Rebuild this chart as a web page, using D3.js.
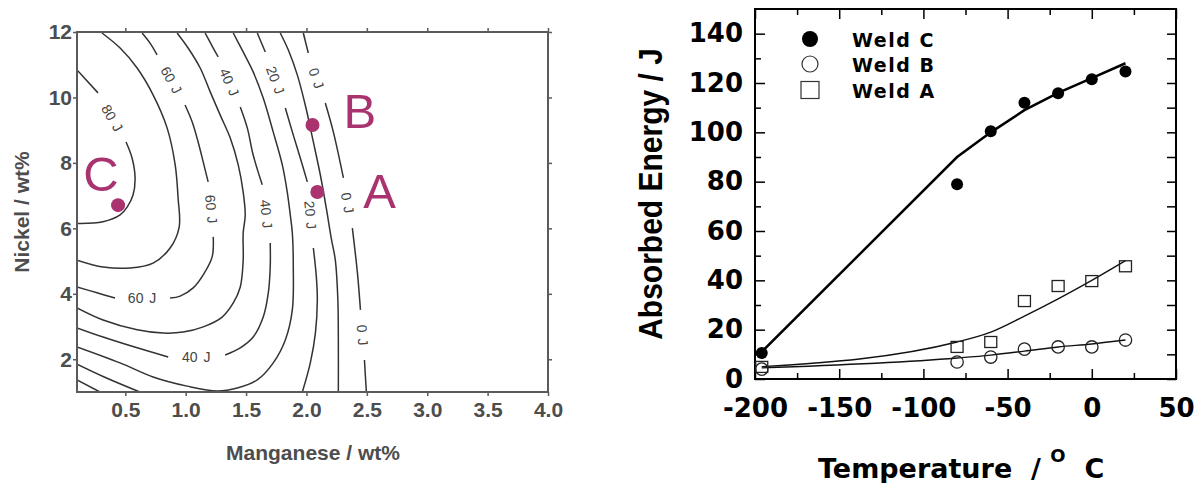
<!DOCTYPE html>
<meta charset="utf-8">
<head>
<style>
  body { margin: 0; background: #fff; }
  svg text { font-family: "Liberation Sans", Arial, sans-serif; }
  .contour { fill: none; stroke: #333; stroke-width: 1.5px; }
  .clabel { font-size: 14px; fill: #444; word-spacing: 2px; }
  .weld { fill: #a8336f; }
  .weldtxt { font-size: 49px; fill: #a8336f; }
  .ltitle { font-size: 21px; font-weight: bold; fill: #4d4d4d; }
  .rtick text { font-family: "DejaVu Sans", sans-serif; font-weight: bold; font-size: 26px; fill: #000; }
  .legtxt { font-family: "DejaVu Sans", sans-serif; font-weight: bold; font-size: 19px; letter-spacing: 1.5px; }
  .rtitle { font-weight: bold; fill: #000; white-space: pre; }
  svg text.xtitle { font-family: "DejaVu Sans", sans-serif; font-size: 27px; }
</style>
</head>
<body>
<svg id="chart" width="1201" height="483"></svg>
<script src="https://d3js.org/d3.v7.min.js"></script>
<script>

// ---------- left panel: contour map, Mn vs Ni ----------
var mnTicks = [0.5, 1.0, 1.5, 2.0, 2.5, 3.0, 3.5, 4.0];
var niTicks = [2, 4, 6, 8, 10, 12];

// each contour is a list of segments of [Mn, Ni], broken where the labels sit
var c80 = [
  [[0.10,10.84],[0.274,10.14]],
  [[0.506,8.64],[0.556,8.15],[0.581,7.54],[0.564,7.02],[0.515,6.65],[0.457,6.41],[0.315,6.20],[0.10,6.15]]
];
var c70 = [
  [[0.307,11.97],[0.457,11.51],[0.598,10.90],[0.730,10.08],[0.846,9.07],[0.913,7.94],[0.937,6.93],[0.946,6.04],[0.871,5.40],[0.730,4.94],[0.539,4.79],[0.316,4.82],[0.10,5.03]]
];
var c60 = [
  [[0.639,11.97],[0.705,11.66],[0.763,11.30]],
  [[0.995,9.77],[1.054,9.25],[1.103,8.64],[1.145,8.03],[1.186,7.42]],
  [[1.228,5.74],[1.219,5.13],[1.145,4.58],[1.062,4.18],[0.954,3.93],[0.871,3.87]],
  [[0.415,3.87],[0.266,4.03],[0.10,4.21]]
];
var c50 = [
  [[0.929,11.97],[1.020,11.51],[1.120,10.90],[1.203,10.17],[1.286,9.46],[1.369,8.76],[1.435,7.94],[1.476,7.11],[1.493,6.41],[1.476,5.86],[1.476,5.03],[1.452,4.21],[1.394,3.72],[1.302,3.29],[1.145,2.99],[0.979,2.83],[0.813,2.80],[0.598,2.90],[0.316,3.20],[0.10,3.57]]
];
var c40 = [
  [[1.161,11.97],[1.228,11.51],[1.269,11.24]],
  [[1.452,9.71],[1.510,9.07],[1.559,8.24],[1.634,7.33]],
  [[1.700,5.55],[1.700,4.82],[1.684,4.03],[1.642,3.29],[1.559,2.68],[1.452,2.35],[1.327,2.13]],
  [[0.855,2.07],[0.598,2.35],[0.316,2.68],[0.10,2.96]]
];
var c30 = [
  [[1.394,11.97],[1.476,11.39],[1.559,10.78],[1.642,9.98],[1.725,8.94],[1.800,7.94],[1.841,7.11],[1.866,6.41],[1.883,5.86],[1.891,4.82],[1.883,3.51],[1.825,2.59],[1.725,1.89],[1.593,1.37],[1.427,1.12],[1.261,1.03],[1.012,1.18],[0.730,1.46],[0.457,1.89],[0.10,2.38]]
];
var c20 = [
  [[1.593,11.97],[1.659,11.39]],
  [[1.825,9.68],[1.891,8.85],[1.949,8.15],[2.007,7.42]],
  [[2.057,5.40],[2.082,4.51],[2.090,3.81],[2.074,2.80],[2.032,1.89],[1.966,1.0]],
  [[0.10,1.85],[0.33,1.45],[0.62,1.0]]
];
var c10 = [
  [[1.783,11.97],[1.850,11.45],[1.924,10.69],[1.990,9.77],[2.057,8.64],[2.115,7.63],[2.165,6.6],[2.205,5.7],[2.239,5.03],[2.260,3.81],[2.264,2.59],[2.264,1.0]],
  [[0.10,1.37],[0.29,1.0]]
];
var c0 = [
  [[1.974,11.97],[2.015,11.36]],
  [[2.156,9.83],[2.223,8.94],[2.306,7.54]],
  [[2.380,6.01],[2.422,4.64],[2.447,3.51]],
  [[2.480,1.98],[2.496,1.0]]
];

var labelText = ["80 J","60 J","60 J","60 J","40 J","40 J","40 J","20 J","20 J","0 J","0 J","0 J"];
var labelMn   = [0.39, 0.88, 1.211, 0.639, 1.36, 1.667, 1.087, 1.742, 2.032, 2.082, 2.339, 2.463];
var labelNi   = [9.37, 10.53, 6.59, 3.87, 10.47, 6.44, 2.07, 10.53, 6.41, 10.59, 6.78, 2.74];
var labelRot  = [60, 61, 85, 0, 66, 84, 0, 70, 85, 71, 80, 86];

var weldNames = ["A", "B", "C"];
var weldMn = [2.09, 2.05, 0.44];
var weldNi = [7.11, 9.16, 6.71];

// ---------- right panel: Charpy energy vs temperature ----------
var temps = [-196, -80, -60, -40, -20, 0, 20];
var weldC = [10.5, 79, 100.4, 112, 115.8, 121.5, 124.7];
var weldB = [4, 6.9, 8.9, 12.1, 13, 13, 15.8];
var weldA = [4.9, 13, 15, 31.6, 37.7, 39.7, 45.7];
var fitC = [11, 90, 100, 109, 116, 122, 128];
var fitB = [4.5, 8.5, 9.7, 11.3, 13, 14.2, 15.8];
var fitA = [5, 15, 19, 25.5, 32.5, 40, 48];
var legendNames = ["Weld C", "Weld B", "Weld A"];

var svg = d3.select("#chart");

// ===== left =====
var xL = d3.scaleLinear().domain([0.1, 4.0]).range([77, 548]);
var yL = d3.scaleLinear().domain([1, 12]).range([392, 32]);
var left = svg.append("g");

left.append("clipPath").attr("id", "clipL")
  .append("rect").attr("x", 77).attr("y", 32).attr("width", 471).attr("height", 360);

function styleLeftAxis(g) {
  g.select(".domain").remove();
  g.selectAll("line").attr("stroke", "#5a5a5a").attr("stroke-width", 1.5);
  g.selectAll("text").attr("fill", "#4d4d4d");
  g.attr("font-size", 21).attr("font-weight", "bold");
}

left.append("g").attr("transform", "translate(0,392)")
  .call(d3.axisBottom(xL).tickValues(mnTicks).tickFormat(d3.format(".1f")).tickSize(4).tickPadding(6))
  .call(styleLeftAxis);
left.append("g").attr("transform", "translate(0,32)")
  .call(d3.axisTop(xL).tickValues(mnTicks).tickFormat("").tickSize(4))
  .call(styleLeftAxis);
left.append("g").attr("transform", "translate(77,0)")
  .call(d3.axisLeft(yL).tickValues(niTicks).tickSize(4).tickPadding(1))
  .call(styleLeftAxis);
left.append("g").attr("transform", "translate(548,0)")
  .call(d3.axisRight(yL).tickValues(niTicks).tickFormat("").tickSize(4))
  .call(styleLeftAxis);

var contourLine = d3.line()
  .x(function(d) { return xL(d[0]); })
  .y(function(d) { return yL(d[1]); })
  .curve(d3.curveCatmullRom.alpha(0.5));

var segs = [].concat(c80, c70, c60, c50, c40, c30, c20, c10, c0);
left.append("g").attr("clip-path", "url(#clipL)")
  .selectAll("path").data(segs).join("path")
  .attr("class", "contour")
  .attr("d", contourLine);

left.selectAll(".clabel").data(labelText).join("text")
  .attr("class", "clabel")
  .attr("text-anchor", "middle")
  .attr("dy", "0.35em")
  .attr("transform", function(d, i) {
    return "translate(" + xL(labelMn[i]) + "," + yL(labelNi[i]) + ") rotate(" + labelRot[i] + ")";
  })
  .text(function(d) { return d; });

left.append("rect").attr("x", 77).attr("y", 32).attr("width", 471).attr("height", 360)
  .attr("fill", "none").attr("stroke", "#5a5a5a").attr("stroke-width", 2);

// weld compositions
var weldDx = [46, 31, -17];
var weldDy = [16, 3, -14];
var weldAnchor = ["start", "start", "middle"];
left.selectAll(".weld").data(weldNames).join("circle")
  .attr("class", "weld")
  .attr("cx", function(d, i) { return xL(weldMn[i]); })
  .attr("cy", function(d, i) { return yL(weldNi[i]); })
  .attr("r", 7);
left.selectAll(".weldtxt").data(weldNames).join("text")
  .attr("class", "weldtxt")
  .attr("x", function(d, i) { return xL(weldMn[i]) + weldDx[i]; })
  .attr("y", function(d, i) { return yL(weldNi[i]) + weldDy[i]; })
  .attr("text-anchor", function(d, i) { return weldAnchor[i]; })
  .text(function(d) { return d; });

left.append("text").attr("class", "ltitle")
  .attr("x", 313).attr("y", 460).attr("text-anchor", "middle")
  .text("Manganese / wt%");
left.append("text").attr("class", "ltitle")
  .attr("transform", "translate(29,212) rotate(-90)").attr("text-anchor", "middle")
  .text("Nickel / wt%");

// ===== right =====
var xR = d3.scaleLinear().domain([-200, 50]).range([755, 1176]);
var yR = d3.scaleLinear().domain([0, 150]).range([379, 9]);
var right = svg.append("g");

function styleRightAxis(g) {
  g.select(".domain").remove();
  g.attr("class", "rtick");
  g.selectAll("line").attr("stroke", "#000").attr("stroke-width", 1.5);
}
var plain = function(d) { return String(d); };   // keep the hyphen minus of the original

var xMajor = [-200, -150, -100, -50, 0, 50];
var xMinor = [-175, -125, -75, -25, 25];
var yMajor = [0, 20, 40, 60, 80, 100, 120, 140];
var yMinor = [10, 30, 50, 70, 90, 110, 130];

right.append("g").attr("transform", "translate(0,379)")
  .call(d3.axisBottom(xR).tickValues(xMajor).tickFormat(plain).tickSize(-10).tickPadding(20))
  .call(styleRightAxis);
right.append("g").attr("transform", "translate(0,379)")
  .call(d3.axisBottom(xR).tickValues(xMinor).tickFormat("").tickSize(-6))
  .call(styleRightAxis);
right.append("g").attr("transform", "translate(0,9)")
  .call(d3.axisTop(xR).tickValues(xMajor).tickFormat("").tickSize(-10))
  .call(styleRightAxis);
right.append("g").attr("transform", "translate(0,9)")
  .call(d3.axisTop(xR).tickValues(xMinor).tickFormat("").tickSize(-6))
  .call(styleRightAxis);
right.append("g").attr("transform", "translate(755,0)")
  .call(d3.axisLeft(yR).tickValues(yMajor).tickFormat(plain).tickSize(-10).tickPadding(12))
  .call(styleRightAxis);
right.append("g").attr("transform", "translate(755,0)")
  .call(d3.axisLeft(yR).tickValues(yMinor).tickFormat("").tickSize(-6))
  .call(styleRightAxis);
right.append("g").attr("transform", "translate(1176,0)")
  .call(d3.axisRight(yR).tickValues(yMajor.concat(yMinor)).tickFormat("").tickSize(-9))
  .call(styleRightAxis);

right.append("rect").attr("x", 755).attr("y", 9).attr("width", 421).attr("height", 370)
  .attr("fill", "none").attr("stroke", "#000").attr("stroke-width", 2);

function fitLine(vals, curve) {
  return d3.line()
    .x(function(d, i) { return xR(temps[i]); })
    .y(function(d) { return yR(d); })
    .curve(curve)(vals);
}
right.append("path").attr("d", fitLine(fitC, d3.curveLinear))
  .attr("fill", "none").attr("stroke", "#000").attr("stroke-width", 2.5);
right.append("path").attr("d", fitLine(fitA, d3.curveMonotoneX))
  .attr("fill", "none").attr("stroke", "#111").attr("stroke-width", 1.4);
right.append("path").attr("d", fitLine(fitB, d3.curveMonotoneX))
  .attr("fill", "none").attr("stroke", "#111").attr("stroke-width", 1.4);

right.selectAll(".ptC").data(weldC).join("circle")
  .attr("class", "ptC")
  .attr("cx", function(d, i) { return xR(temps[i]); })
  .attr("cy", function(d) { return yR(d); })
  .attr("r", 6).attr("fill", "#000");
right.selectAll(".ptB").data(weldB).join("circle")
  .attr("class", "ptB")
  .attr("cx", function(d, i) { return xR(temps[i]); })
  .attr("cy", function(d) { return yR(d); })
  .attr("r", 6.2).attr("fill", "none").attr("stroke", "#222").attr("stroke-width", 1.3);
right.selectAll(".ptA").data(weldA).join("rect")
  .attr("class", "ptA")
  .attr("x", function(d, i) { return xR(temps[i]) - 6; })
  .attr("y", function(d) { return yR(d) - 5.5; })
  .attr("width", 12).attr("height", 11)
  .attr("fill", "none").attr("stroke", "#222").attr("stroke-width", 1.3);

// legend
var legY = [39, 64, 90];
var leg = right.append("g");
leg.append("circle").attr("cx", 810).attr("cy", legY[0]).attr("r", 8).attr("fill", "#000");
leg.append("circle").attr("cx", 810).attr("cy", legY[1]).attr("r", 8)
  .attr("fill", "none").attr("stroke", "#333").attr("stroke-width", 1.2);
leg.append("rect").attr("x", 801).attr("y", legY[2] - 8.5).attr("width", 18).attr("height", 17)
  .attr("fill", "none").attr("stroke", "#333").attr("stroke-width", 1.2);
leg.selectAll(".legtxt").data(legendNames).join("text")
  .attr("class", "legtxt")
  .attr("x", 852)
  .attr("y", function(d, i) { return legY[i] + 8; })
  .text(function(d) { return d; });

right.append("text").attr("class", "rtitle")
  .attr("transform", "translate(650,194) rotate(-90) scale(1,1.12)")
  .attr("text-anchor", "middle").attr("dy", "0.36em")
  .attr("font-size", 30)
  .text("Absorbed Energy / J");

var xt = right.append("text").attr("class", "rtitle xtitle")
  .attr("x", 818).attr("y", 478);
xt.append("tspan").text("Temperature  / ");
xt.append("tspan").attr("font-size", 18).attr("dy", -16).text("O");
xt.append("tspan").attr("dy", 16).text("  C");

</script>
</body>
